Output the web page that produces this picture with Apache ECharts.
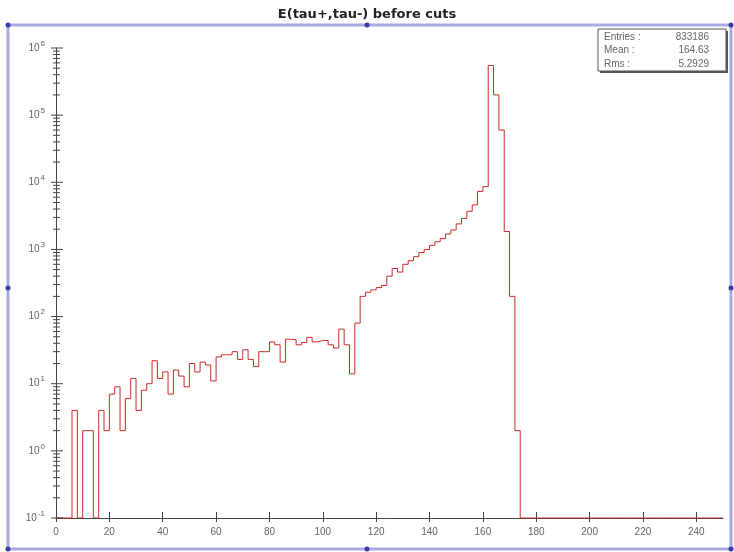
<!DOCTYPE html>
<html>
<head>
<meta charset="utf-8">
<script src="https://cdn.jsdelivr.net/npm/echarts@6/dist/echarts.min.js"></script>
<style>
	html, body { margin: 0; padding: 0; background: #fff; }
	#chart { width: 734px; height: 552px; }
</style>
</head>
<body>
<div id="chart"></div>
<script>
// histogram: 125 bins of width 2 starting at 0
const binStart = 0;
const binWidth = 2;
const counts = [
	0, 0, 0, 4, 0, 2, 2, 0, 4, 2,
	7, 9, 2, 6, 12, 4, 8, 10, 22, 12,
	15, 7, 16, 13, 9, 20, 15, 21, 19, 11,
	25, 27, 27, 30, 23, 32, 23, 18, 30, 30,
	42, 38, 21, 46, 45, 38, 41, 49, 42, 44,
	44, 38, 34, 65, 38, 14, 80, 200, 230, 250,
	270, 290, 400, 520, 460, 600, 680, 780, 900, 1000,
	1150, 1300, 1450, 1700, 1950, 2400, 2900, 3700, 4600, 7300,
	8600, 550000, 200000, 60000, 1850, 200, 2, 0, 0, 0,
	0, 0, 0, 0, 0, 0, 0, 0, 0, 0,
	0, 0, 0, 0, 0, 0, 0, 0, 0, 0,
	0, 0, 0, 0, 0, 0, 0, 0, 0, 0,
	0, 0, 0, 0, 0
];

const xTicks = [0, 20, 40, 60, 80, 100, 120, 140, 160, 180, 200, 220, 240];
const yDecades = [0.1, 1, 10, 100, 1000, 10000, 100000, 1000000];
const statLabels = ['Entries :', 'Mean :', 'Rms :'];
const statValues = ['833186', '164.63', '5.2929'];

const yMin = 0.1;
const yMax = 1e6;

// step points at bin left edges, empty bins sit on the axis floor
let histData = counts.map((c, k) => [binStart + k * binWidth, Math.max(c, yMin)]);
histData.push([binStart + counts.length * binWidth, Math.max(counts[counts.length - 1], yMin)]);

// ROOT style log ticks: decades plus 2..9 in between
let yTickData = [];
yDecades.forEach((d, i) => {
	yTickData.push([0, d, 1]);
	if (i < yDecades.length - 1) {
		for (let m = 2; m <= 9; m++) yTickData.push([0, d * m, 0]);
	}
});

const fontFam = '"Liberation Sans", Arial, sans-serif';
const frameColor = '#a9a9e2';
const dotColor = '#3a3aa8';

let myChart = echarts.init(document.getElementById('chart'), null, { renderer: 'canvas' });

const dots = [[8, 25], [367, 25], [731, 25], [8, 288], [731, 288], [8, 549], [367, 549], [731, 549]];

let option = {
	animation: false,
	backgroundColor: '#fff',
	title: {
		text: 'E(tau+,tau-) before cuts',
		left: 'center',
		top: 3,
		textStyle: { fontFamily: '"DejaVu Sans", sans-serif', fontSize: 13, fontWeight: 'bold', color: '#222' },
	},
	grid: { left: 56, right: 11, top: 48, bottom: 34 },
	xAxis: [
		{
			type: 'value',
			min: 0,
			max: 250,
			splitLine: { show: false },
			axisLine: { lineStyle: { color: '#444', width: 1 } },
			axisTick: { customValues: xTicks, inside: true, length: 6, lineStyle: { color: '#444' } },
			axisLabel: {
				customValues: xTicks,
				color: '#666',
				fontFamily: fontFam,
				fontSize: 10,
				margin: 9,
			},
		},
		{
			type: 'value',
			min: 0,
			max: 250,
			position: 'bottom',
			splitLine: { show: false },
			axisLine: { show: false },
			axisTick: { customValues: xTicks, inside: false, length: 4, lineStyle: { color: '#444' } },
			axisLabel: { show: false },
		},
	],
	yAxis: {
		type: 'log',
		logBase: 10,
		min: yMin,
		max: yMax,
		splitLine: { show: false },
		axisLine: { show: true, lineStyle: { color: '#444', width: 1 } },
		axisTick: { show: false },
		axisLabel: {
			color: '#666',
			fontFamily: fontFam,
			margin: 11,
			formatter: (v) => {
				const e = Math.round(Math.log10(v));
				return '{b|10}{s|' + e + '}';
			},
			rich: {
				b: { fontSize: 10, fontFamily: fontFam, color: '#666' },
				s: { fontSize: 8, fontFamily: fontFam, color: '#666', padding: [0, 0, 9, 1] },
			},
		},
	},
	series: [
		{
			name: 'hist',
			type: 'line',
			step: 'end',
			data: histData,
			showSymbol: false,
			lineStyle: { color: '#cf2a2a', width: 1 },
			z: 3,
		},
		{
			name: 'yticks',
			type: 'custom',
			clip: false,
			silent: true,
			data: yTickData,
			renderItem: (params, api) => {
				const p = api.coord([0, api.value(1)]);
				const major = api.value(2) === 1;
				return {
					type: 'line',
					shape: { x1: p[0] - (major ? 5 : 3), y1: p[1], x2: p[0] + (major ? 7 : 4), y2: p[1] },
					style: { stroke: '#444', lineWidth: 1 },
				};
			},
			z: 4,
		},
	],
	graphic: [
		{
			type: 'rect',
			shape: { x: 8, y: 25, width: 723, height: 524 },
			style: { fill: 'none', stroke: frameColor, lineWidth: 3 },
			z: 10,
		},
		...dots.map((d) => ({
			type: 'circle',
			shape: { cx: d[0], cy: d[1], r: 2.5 },
			style: { fill: dotColor },
			z: 11,
		})),
		{
			type: 'rect',
			shape: { x: 600, y: 31, width: 128, height: 42 },
			style: { fill: '#555' },
			z: 12,
		},
		{
			type: 'rect',
			shape: { x: 598, y: 29, width: 128, height: 42 },
			style: { fill: '#fff', stroke: '#555', lineWidth: 1 },
			z: 13,
		},
		...statLabels.map((s, i) => ({
			type: 'text',
			x: 604,
			y: 37 + i * 13.5,
			style: { text: s, fill: '#666', font: '10px ' + fontFam, textVerticalAlign: 'middle' },
			z: 14,
		})),
		...statValues.map((s, i) => ({
			type: 'text',
			x: 709,
			y: 37 + i * 13.5,
			style: { text: s, fill: '#666', font: '10px ' + fontFam, textAlign: 'right', textVerticalAlign: 'middle' },
			z: 14,
		})),
	],
};

myChart.setOption(option);
</script>
</body>
</html>
